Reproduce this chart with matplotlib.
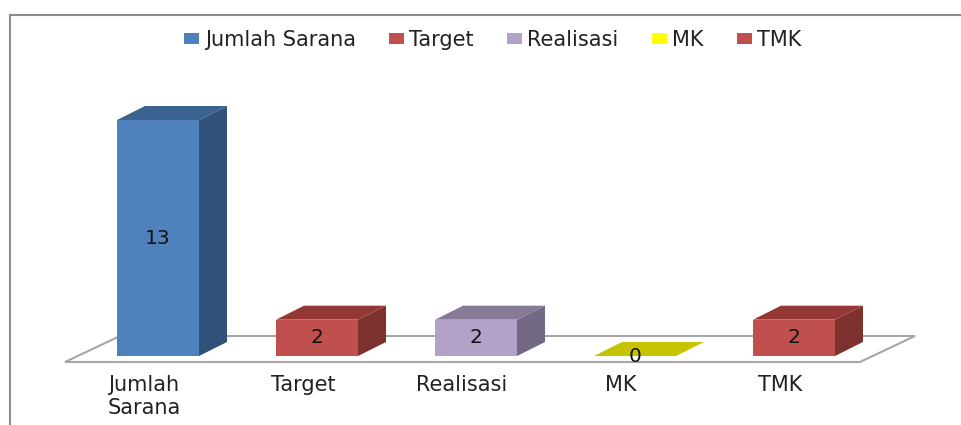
import matplotlib
matplotlib.use("Agg")
import matplotlib.pyplot as plt
from matplotlib.patches import Patch, Polygon, Rectangle
from matplotlib.lines import Line2D

plt.rcParams["font.family"] = ["DejaVu Sans"]

categories = ["Jumlah\nSarana", "Target", "Realisasi", "MK", "TMK"]
legend_labels = ["Jumlah Sarana", "Target", "Realisasi", "MK", "TMK"]
values = [13, 2, 2, 0, 2]
front_colors = ["#4F81BD", "#C0504D", "#B3A2C7", "#FFFF00", "#C0504D"]
top_colors = ["#3C6290", "#943835", "#877A97", "#C6C400", "#943835"]
side_colors = ["#325379", "#7D3230", "#746985", "#A6A600", "#7D3230"]

W, H = 962, 425
fig = plt.figure(figsize=(W / 100, H / 100), dpi=100, facecolor="white")
ax = fig.add_axes([0, (H - 356) / H, 1, 356 / H])
PX = 159.0      # pixels per category
PY = 236 / 13   # pixels per value unit
ax.set_xlim(-158 / PX, (W - 158) / PX)
ax.set_ylim(0, 356 / PY)
for s in ax.spines.values():
    s.set_visible(False)
ax.set_yticks([])
ax.patch.set_alpha(0)

half = 41 / PX
dx, dy = 28 / PX, 14 / PY

# floor
floor_y0, floor_y1 = -6 / PY, 20 / PY
floor = Polygon([(-93 / PX, floor_y0), (702 / PX, floor_y0),
                 (757 / PX, floor_y1), (-38 / PX, floor_y1)],
                closed=True, facecolor="white", edgecolor="#A6A6A6", lw=1.5, clip_on=False, zorder=1)
ax.add_patch(floor)

for i, (v, fc, tc, sc) in enumerate(zip(values, front_colors, top_colors, side_colors)):
    x0, x1 = i - half, i + half
    if v > 0:
        ax.add_patch(Rectangle((x0, 0), x1 - x0, v, facecolor=fc, edgecolor="none", zorder=3))
        ax.add_patch(Polygon([(x1, 0), (x1 + dx, dy), (x1 + dx, v + dy), (x1, v)],
                             facecolor=sc, edgecolor="none", zorder=3))
    ax.add_patch(Polygon([(x0, v), (x1, v), (x1 + dx, v + dy), (x0 + dx, v + dy)],
                         facecolor=tc, edgecolor="none", zorder=3))
    ax.text(i, v / 2 if v > 0 else 0, str(v), ha="center", va="center",
            fontsize=14.5, color="#111111", zorder=5, clip_on=False)

ax.set_xticks([i - 14 / PX for i in range(len(categories))])
ax.set_xticklabels(categories, fontsize=15, color="#222222", linespacing=1.15)
ax.tick_params(axis="x", length=0, pad=14)

handles = [Patch(facecolor=c, edgecolor="none") for c in front_colors]
ax.legend(handles, legend_labels, loc="center", bbox_to_anchor=(493 / W, (356 - 40) / 356),
          ncol=5, frameon=False, fontsize=15, labelcolor="#222222", columnspacing=1.6,
          handlelength=0.72, handleheight=0.48, handletextpad=0.25, borderpad=0)

# chart frame
fig.add_artist(Line2D([9.5 / W, 9.5 / W], [0, 1 - 14.5 / H], color="#8C8C8C", lw=1.5))
fig.add_artist(Line2D([9.5 / W, 1], [1 - 14.5 / H, 1 - 14.5 / H], color="#8C8C8C", lw=1.5))

fig.savefig("out.png", dpi=100)
